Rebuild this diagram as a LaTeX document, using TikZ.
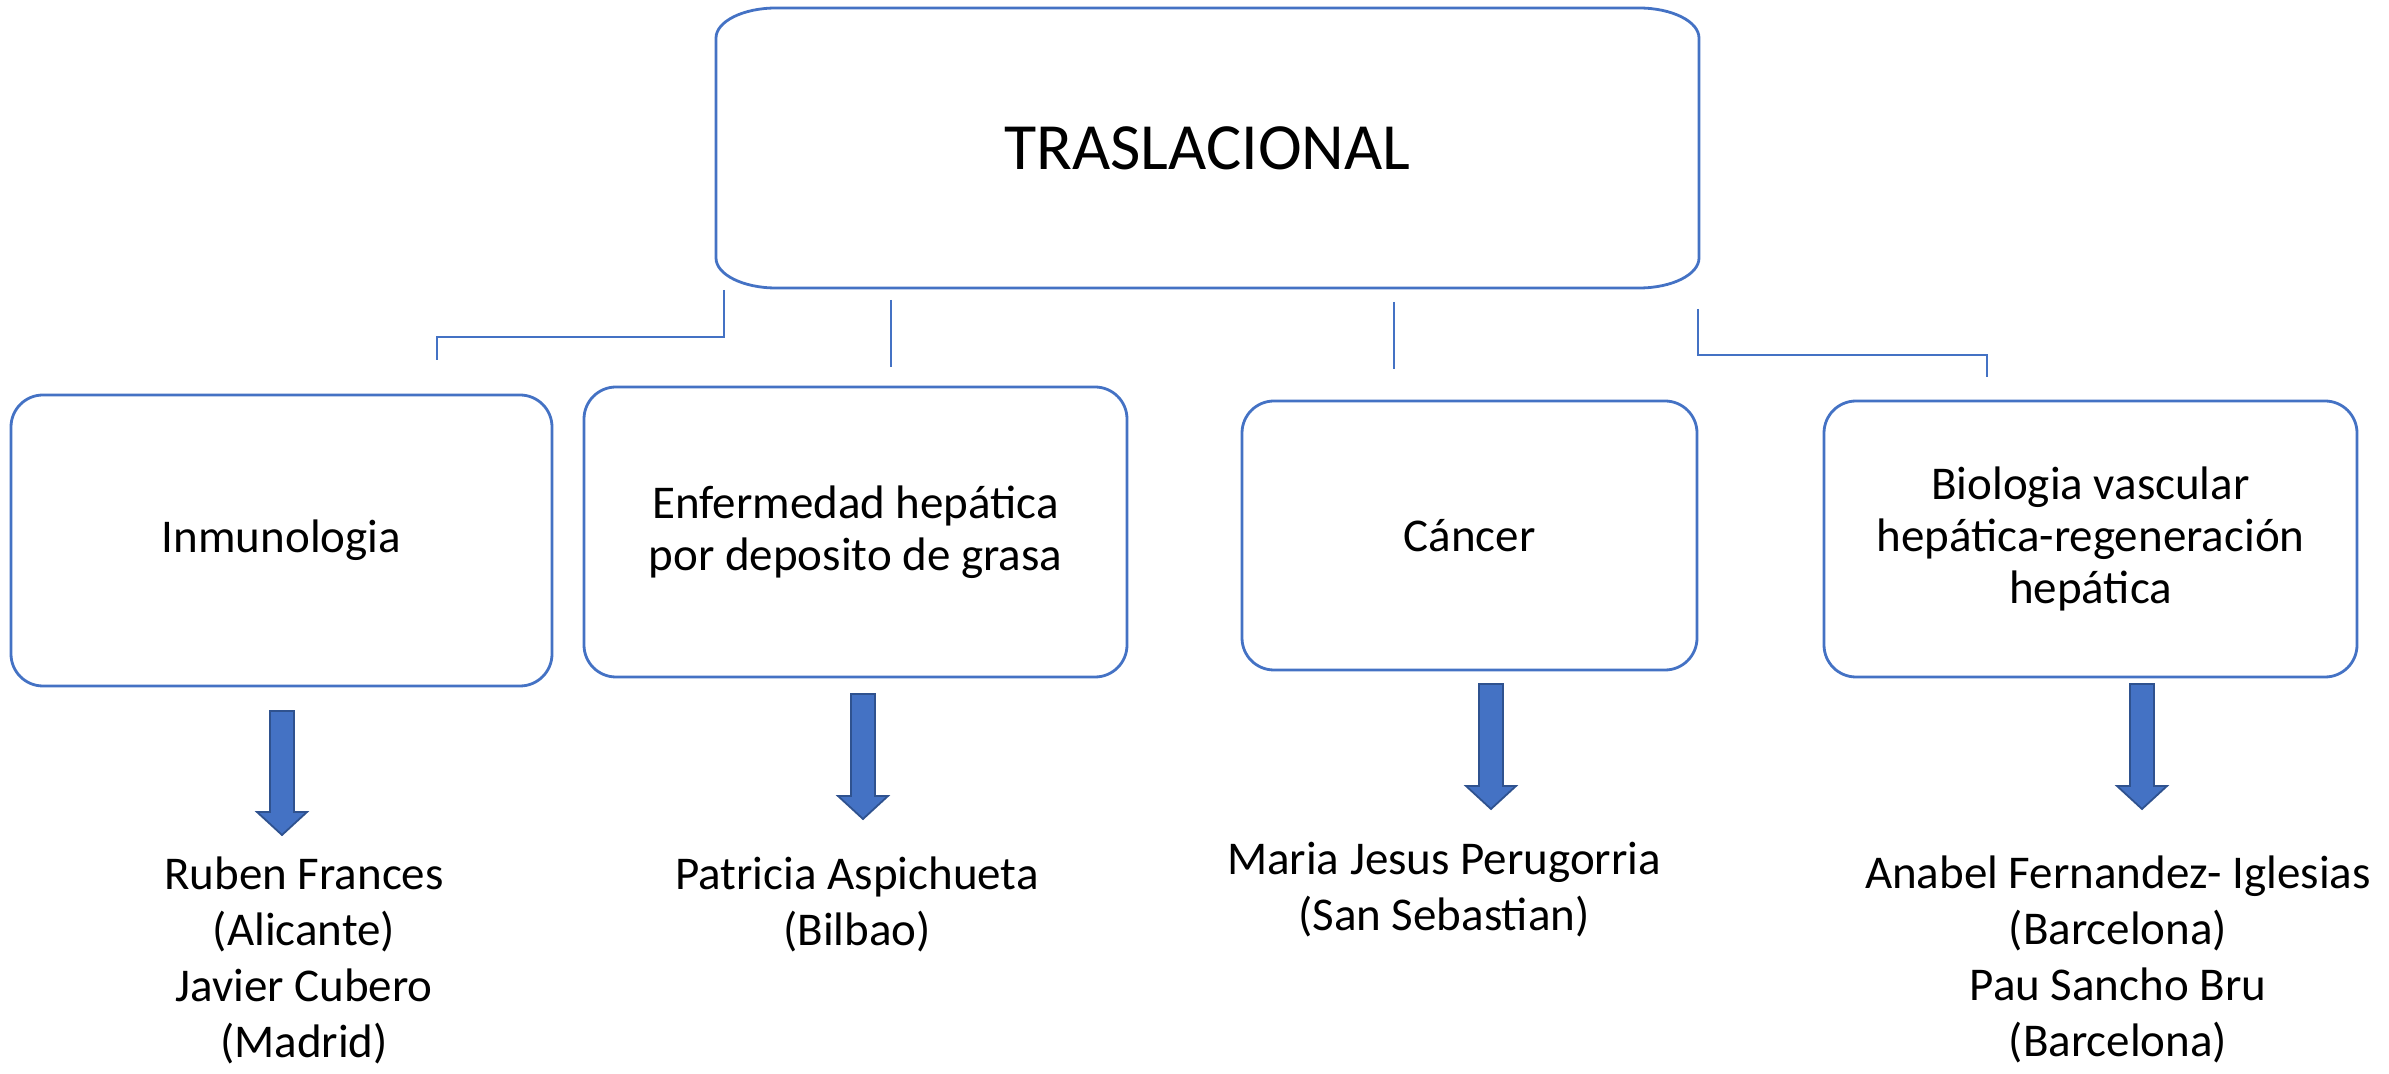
\documentclass[tikz,border=0pt]{standalone}
\usepackage{fontspec}
\setmainfont{Carlito}
\definecolor{boxblue}{HTML}{4472C4}
\definecolor{arrowedge}{HTML}{2F528F}
\newcommand{\blockarrow}[3]{%
  \path[blockarr] (#1) ++(-12,0)
    -- ++(24,0) -- ++(0,{#2}) -- ++(13,0) -- ++(-25,{#3}) -- ++(-25,{-#3}) -- ++(13,0) -- cycle;}
\begin{document}
\begin{tikzpicture}[x=0.5pt,y=-0.5pt,
  box/.style={draw=boxblue, line width=1.4pt, rounded corners=16pt, inner sep=0pt, outer sep=0pt, align=center, font=\fontsize{23.5}{26}\selectfont},
  conn/.style={draw=boxblue, line width=1.4pt},
  blockarr/.style={fill=boxblue, draw=arrowedge, line width=0.9pt},
  lbl/.style={anchor=base, inner sep=0pt, font=\fontsize{23.5}{28}\selectfont}]
\useasboundingbox (0,0) rectangle (2389,1074);
% top box
\node[inner sep=0pt, minimum width=491.5pt, minimum height=140pt, font=\fontsize{33}{36}\selectfont] (top) at (1207.5,148) {TRASLACIONAL};
\draw[conn] (776,8) -- (1639,8) .. controls (1672,8) and (1699,21.5) .. (1699,38)
  -- (1699,258) .. controls (1699,274.5) and (1672,288) .. (1639,288)
  -- (776,288) .. controls (743,288) and (716,274.5) .. (716,258)
  -- (716,38) .. controls (716,21.5) and (743,8) .. (776,8) -- cycle;
% second-row boxes
\node[box, minimum width=270.5pt, minimum height=145.5pt] (b1) at (281.5,540.5) {Inmunologia};
\node[box, minimum width=271.5pt, minimum height=145pt] (b2) at (855.5,532) {Enfermedad hepática\\por deposito de grasa};
\node[box, minimum width=227.5pt, minimum height=134.5pt] (b3) at (1469.5,535.5) {Cáncer};
\node[box, minimum width=266.5pt, minimum height=138pt] (b4) at (2090.5,539) {Biologia vascular\\hepática-regeneración\\hepática};
% connectors
\coordinate (c1a) at (724,290); \coordinate (c1b) at (437,360);
\draw[conn] (c1a) -- (724,337) -| (c1b);
\coordinate (c2a) at (891,300); \coordinate (c2b) at (891,367);
\draw[conn] (c2a) -- (c2b);
\coordinate (c3a) at (1394,302); \coordinate (c3b) at (1394,369);
\draw[conn] (c3a) -- (c3b);
\coordinate (c4a) at (1698,309); \coordinate (c4b) at (1987,377);
\draw[conn] (c4a) -- (1698,355) -| (c4b);
% arrows
\coordinate (a1) at (282,711);
\coordinate (a2) at (863,694);
\coordinate (a3) at (1491,684);
\coordinate (a4) at (2142,684);
\blockarrow{a1}{101}{23}
\blockarrow{a2}{102}{23}
\blockarrow{a3}{102}{23}
\blockarrow{a4}{102}{23}
% names
\node[lbl] (n1a) at (304,889) {Ruben Frances};
\node[lbl] (n1b) at (304,945) {(Alicante)};
\node[lbl] (n1c) at (304,1001) {Javier Cubero};
\node[lbl] (n1d) at (304,1057) {(Madrid)};
\node[lbl] (n2a) at (857,889) {Patricia Aspichueta};
\node[lbl] (n2b) at (857,945) {(Bilbao)};
\node[lbl] (n3a) at (1444,874) {Maria Jesus Perugorria};
\node[lbl] (n3b) at (1444,930) {(San Sebastian)};
\node[lbl] (n4a) at (2118,888) {Anabel Fernandez- Iglesias};
\node[lbl] (n4b) at (2118,944) {(Barcelona)};
\node[lbl] (n4c) at (2118,1000) {Pau Sancho Bru};
\node[lbl] (n4d) at (2118,1056) {(Barcelona)};
\end{tikzpicture}
\end{document}
